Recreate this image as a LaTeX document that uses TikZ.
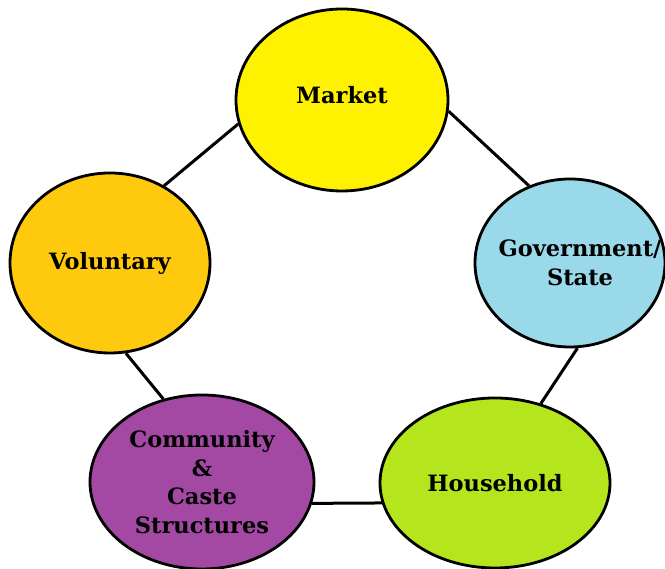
\documentclass[tikz,border=0pt]{standalone}
\usepackage{fontspec}
\setmainfont{DejaVu Serif}
\usepackage{tikz}
\usetikzlibrary{shapes.geometric}

\definecolor{paintyellow}{RGB}{255,242,0}
\definecolor{paintgold}{RGB}{255,201,14}
\definecolor{paintblue}{RGB}{153,217,234}
\definecolor{paintpurple}{RGB}{163,73,164}
\definecolor{paintlime}{RGB}{181,230,29}

\begin{document}
\begin{tikzpicture}[x=1pt,y=1pt]
  \tikzset{SectorStyle/.style = {
    shape         = ellipse,
    draw          = black,
    line width    = 2.8pt,
    inner sep     = 0pt,
    text          = black
    }
  }
  \tikzset{SectorLabelStyle/.style = {
    align         = center,
    font          = \bfseries\fontsize{22.5}{28.5}\selectfont,
    inner sep     = 0pt
    }
  }
  \tikzset{LinkStyle/.style = {
    draw          = black,
    line width    = 3pt
    }
  }
  \useasboundingbox (0,0) rectangle (665,569);

	\node[SectorStyle, fill=paintyellow, minimum width=212, minimum height=182,
	  label={[SectorLabelStyle, yshift=5pt]center:Market}](Mkt) at (342, 469) {};
	\node[SectorStyle, fill=paintblue, minimum width=190, minimum height=168,
	  label={[SectorLabelStyle, xshift=10pt]center:Government/\\State}](Gov) at (570, 306) {};
	\node[SectorStyle, fill=paintgold, minimum width=200, minimum height=180,
	  label={[SectorLabelStyle]center:Voluntary}](Vol) at (110, 306) {};
	\node[SectorStyle, fill=paintpurple, minimum width=224, minimum height=174,
	  label={[SectorLabelStyle]center:Community\\\&\\Caste\\Structures}](Com) at (202, 87) {};
	\node[SectorStyle, fill=paintlime, minimum width=230, minimum height=170,
	  label={[SectorLabelStyle]center:Household}](Hh) at (495, 86) {};
	%
	\draw[LinkStyle](Mkt.193) to (Vol.55);
	\draw[LinkStyle](Mkt.354) to (Gov.118);
	\draw[LinkStyle](Gov.275) to (Hh.60);
	\draw[LinkStyle](Hh.190) to (Com.349);
	\draw[LinkStyle](Com.115) to (Vol.280);
\end{tikzpicture}
\end{document}
